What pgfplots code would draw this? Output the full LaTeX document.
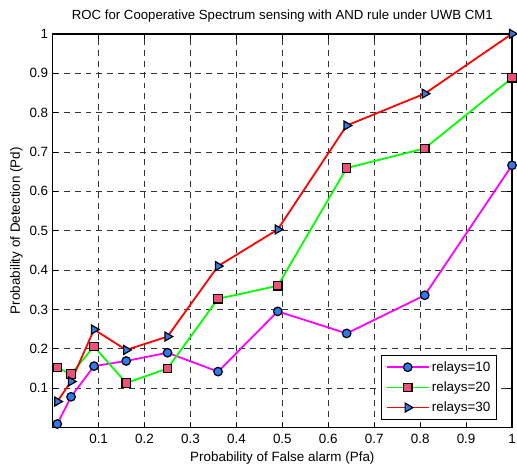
\documentclass[border=0pt]{standalone}
\usepackage{pgfplots}
\pgfplotsset{compat=1.18}
\usepackage{fontspec}
\setmainfont{Liberation Sans}
\definecolor{mblue}{RGB}{50,120,240}
\definecolor{mpink}{RGB}{240,80,120}
\definecolor{mgreen}{RGB}{0,255,0}
\definecolor{mmag}{RGB}{255,0,255}
\begin{document}
\begin{tikzpicture}
\begin{axis}[
  name=ax,
  scale only axis, width=462pt, height=396pt,
  xmin=0, xmax=1, ymin=0, ymax=1,
  xtick={0.1,0.2,0.3,0.4,0.5,0.6,0.7,0.8,0.9,1},
  ytick={0.1,0.2,0.3,0.4,0.5,0.6,0.7,0.8,0.9,1},
  xticklabels={0.1,0.2,0.3,0.4,0.5,0.6,0.7,0.8,0.9,1},
  yticklabels={0.1,0.2,0.3,0.4,0.5,0.6,0.7,0.8,0.9,1},
  /pgf/number format/assume math mode=true,
  tick align=inside, major tick length=5pt,
  tick style={black, line width=0.7pt},
  axis line style={black, line width=1.6pt},
  grid=major, grid style={black!80, dashed, line width=0.7pt, dash pattern=on 6pt off 5pt},
  ticklabel style={font=\fontsize{13.5}{15}\selectfont},
  xticklabel style={yshift=-3pt},
  yticklabel style={xshift=-1pt},
  title={ROC for Cooperative Spectrum sensing with AND rule under UWB CM1},
  title style={font=\fontsize{13.3}{15}\selectfont, yshift=2pt},
  xlabel={Probability of False alarm (Pfa)},
  ylabel={Probability of Detection (Pd)},
  label style={font=\fontsize{13.5}{15}\selectfont},
  xlabel style={yshift=-1pt},
  ylabel style={yshift=0pt},
  legend style={at={(0.967,0.02)}, anchor=south east, draw=black, line width=1pt,
    font=\fontsize{13.5}{16}\selectfont, row sep=5pt, inner sep=4pt},
  legend cell align=left,
  legend image code/.code={\draw[#1] (0cm,0cm) -- (1.5cm,0cm); \draw[#1, only marks] plot coordinates {(0.75cm,0cm)};},
  clip=false,
]
\addplot[mmag, line width=1.8pt, mark=*, mark size=4.3pt, mark options={fill=mblue, draw=black, line width=1.2pt}]
coordinates {(0.01,0.009) (0.04,0.078) (0.09,0.156) (0.16,0.169) (0.25,0.19) (0.36,0.142) (0.49,0.295) (0.64,0.239) (0.81,0.336) (1.0,0.666)};
\addlegendentry{ relays=10}
\addplot[mgreen, line width=1.8pt, mark=square*, mark size=4.2pt, mark options={fill=mpink, draw=black, line width=1.2pt}]
coordinates {(0.01,0.152) (0.04,0.136) (0.09,0.206) (0.16,0.113) (0.25,0.150) (0.36,0.327) (0.49,0.360) (0.64,0.659) (0.81,0.709) (1.0,0.888)};
\addlegendentry{relays=20}
\addplot[red, line width=1.8pt, mark=triangle*, mark size=5.2pt, mark options={rotate=-90, fill=mblue, draw=black, line width=1.2pt}]
coordinates {(0.01,0.066) (0.04,0.117) (0.09,0.249) (0.16,0.197) (0.25,0.231) (0.36,0.41) (0.49,0.503) (0.64,0.767) (0.81,0.848) (1.0,1.0)};
\addlegendentry{relays=30}
\end{axis}
\pgfresetboundingbox
\path ([shift={(-53pt,-42pt)}]ax.south west) rectangle ([shift={(5pt,34pt)}]ax.north east);
\end{tikzpicture}
\end{document}
